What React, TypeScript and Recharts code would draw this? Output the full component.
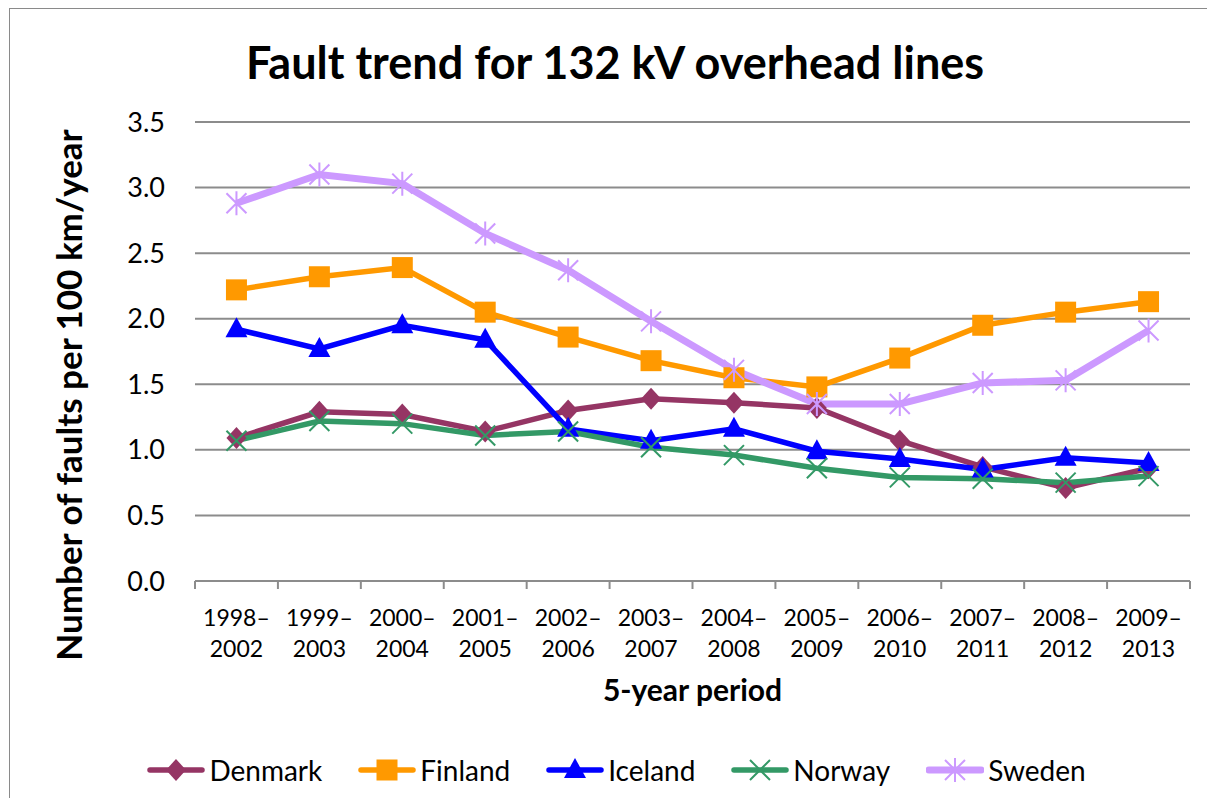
import { LineChart, Line, XAxis, YAxis, CartesianGrid, Legend } from 'recharts'

const periods = [
  '1998–2002', '1999–2003', '2000–2004', '2001–2005', '2002–2006', '2003–2007',
  '2004–2008', '2005–2009', '2006–2010', '2007–2011', '2008–2012', '2009–2013',
]
const denmark = [1.09, 1.29, 1.27, 1.14, 1.30, 1.39, 1.36, 1.32, 1.07, 0.87, 0.71, 0.86]
const finland = [2.22, 2.32, 2.39, 2.05, 1.86, 1.68, 1.55, 1.48, 1.70, 1.95, 2.05, 2.13]
const iceland = [1.92, 1.77, 1.95, 1.84, 1.16, 1.07, 1.16, 0.99, 0.93, 0.85, 0.94, 0.90]
const norway = [1.07, 1.22, 1.20, 1.11, 1.14, 1.02, 0.96, 0.86, 0.79, 0.78, 0.75, 0.80]
const sweden = [2.88, 3.10, 3.03, 2.65, 2.37, 1.98, 1.61, 1.35, 1.35, 1.51, 1.53, 1.91]
const yTicks = [0, 0.5, 1, 1.5, 2, 2.5, 3, 3.5]

const data = periods.map((period, i) => ({
  period,
  Denmark: denmark[i],
  Finland: finland[i],
  Iceland: iceland[i],
  Norway: norway[i],
  Sweden: sweden[i],
}))

type MarkerKind = 'diamond' | 'square' | 'triangle' | 'x' | 'star'

const series: { key: string; color: string; marker: MarkerKind; width: number }[] = [
  { key: 'Denmark', color: '#953564', marker: 'diamond', width: 5.5 },
  { key: 'Finland', color: '#FF9900', marker: 'square', width: 5.5 },
  { key: 'Iceland', color: '#0000FF', marker: 'triangle', width: 5.5 },
  { key: 'Norway', color: '#339966', marker: 'x', width: 5.5 },
  { key: 'Sweden', color: '#CC99FF', marker: 'star', width: 7 },
]

// page is 1215x806 with an 8px body margin; keep inside it so no scrollbars appear
const W = 1199
const H = 790
const FONT = 'Lato, "Open Sans", sans-serif'
const GRID = '#8c8c8c'
// half of one category band (plot is 995px wide, 12 categories)
const HALF_BAND = 995 / 24

function Marker({ kind, cx, cy, color }: { kind: MarkerKind; cx: number; cy: number; color: string }) {
  if (kind === 'diamond') {
    return <polygon points={`${cx},${cy - 11} ${cx + 10},${cy} ${cx},${cy + 11} ${cx - 10},${cy}`} fill={color} />
  }
  if (kind === 'square') {
    return <rect x={cx - 10.5} y={cy - 10.5} width={21} height={21} fill={color} />
  }
  if (kind === 'triangle') {
    return <polygon points={`${cx},${cy - 12} ${cx + 11},${cy + 8} ${cx - 11},${cy + 8}`} fill={color} />
  }
  if (kind === 'x') {
    return (
      <path
        d={`M${cx - 10},${cy - 10}L${cx + 10},${cy + 10}M${cx + 10},${cy - 10}L${cx - 10},${cy + 10}`}
        stroke={color}
        strokeWidth={2}
      />
    )
  }
  return (
    <path
      d={`M${cx - 10},${cy - 10}L${cx + 10},${cy + 10}M${cx + 10},${cy - 10}L${cx - 10},${cy + 10}M${cx},${cy - 12}L${cx},${cy + 12}`}
      stroke={color}
      strokeWidth={2}
    />
  )
}

function PeriodTick(props: any) {
  const { x, y, payload, index } = props
  const [a, b] = String(payload.value).split('–')
  return (
    <g>
      <line x1={x - HALF_BAND} y1={y} x2={x - HALF_BAND} y2={y + 8} stroke={GRID} strokeWidth={2} />
      {index === periods.length - 1 && (
        <line x1={x + HALF_BAND} y1={y} x2={x + HALF_BAND} y2={y + 8} stroke={GRID} strokeWidth={2} />
      )}
      <text x={x} y={y + 36} textAnchor="middle" dominantBaseline="central" fontSize={23} fill="#000">
        {a}–
      </text>
      <text x={x} y={y + 67} textAnchor="middle" dominantBaseline="central" fontSize={23} fill="#000">
        {b}
      </text>
    </g>
  )
}

function LegendContent() {
  return (
    <div
      style={{
        display: 'flex',
        justifyContent: 'center',
        alignItems: 'center',
        gap: 36,
        height: 44,
        paddingLeft: 18,
        boxSizing: 'border-box',
        fontFamily: FONT,
        fontSize: 28,
        color: '#000',
      }}
    >
      {series.map((s) => (
        <div key={s.key} style={{ display: 'flex', alignItems: 'center' }}>
          <svg width={58} height={30} style={{ marginRight: 4 }}>
            <line x1={3} y1={15} x2={55} y2={15} stroke={s.color} strokeWidth={s.width} strokeLinecap="round" />
            <Marker kind={s.marker} cx={29} cy={15} color={s.color} />
          </svg>
          <span>{s.key}</span>
        </div>
      ))}
    </div>
  )
}

export default function App() {
  return (
    <div style={{ position: 'relative', width: W, height: H, fontFamily: FONT, overflow: 'hidden' }}>
      <div
        style={{
          position: 'absolute',
          left: 1,
          top: 0,
          width: 40,
          height: 40,
          borderLeft: '1px solid #8a8a8a',
          borderTop: '1px solid #8a8a8a',
          pointerEvents: 'none',
        }}
      />
      <div style={{ position: 'absolute', left: 1, top: 0, width: W, height: 1, background: '#8a8a8a' }} />
      <div style={{ position: 'absolute', left: 1, top: 0, width: 1, height: H, background: '#8a8a8a' }} />
      <div
        style={{
          position: 'absolute',
          left: 0,
          top: 24,
          width: W,
          paddingLeft: 15,
          boxSizing: 'border-box',
          lineHeight: '60px',
          textAlign: 'center',
          fontSize: 45,
          fontWeight: 700,
          color: '#000',
        }}
      >
        Fault trend for 132 kV overhead lines
      </div>
      <LineChart width={W} height={H} data={data} margin={{ top: 114, right: 17, left: 107, bottom: 48 }}>
        <CartesianGrid stroke={GRID} strokeWidth={2} vertical={false} />
        <XAxis
          dataKey="period"
          height={125}
          padding={{ left: HALF_BAND, right: HALF_BAND }}
          axisLine={{ stroke: GRID, strokeWidth: 2 }}
          tickLine={false}
          tickSize={0}
          tickMargin={0}
          interval={0}
          tick={<PeriodTick />}
          label={{
            value: '5-year period',
            position: 'insideBottom',
            offset: 5,
            style: { fontSize: 30, fontWeight: 700, fill: '#000' },
          }}
        />
        <YAxis
          width={80}
          domain={[0, 3.5]}
          ticks={yTicks}
          axisLine={false}
          tickLine={false}
          tickSize={0}
          tickMargin={30}
          tickFormatter={(v: number) => v.toFixed(1)}
          tick={{ fontSize: 27, fill: '#000' }}
          label={{
            content: () => (
              <text
                x={60}
                y={387}
                transform="rotate(-90 60 387)"
                textAnchor="middle"
                dominantBaseline="central"
                fontSize={35}
                fontWeight={700}
                fill="#000"
              >
                Number of faults per 100 km/year
              </text>
            ),
          }}
        />
        <Legend verticalAlign="bottom" height={44} content={<LegendContent />} wrapperStyle={{ top: 740, left: 0, width: W }} />
        {series.map((s) => (
          <Line
            key={s.key}
            type="linear"
            dataKey={s.key}
            stroke={s.color}
            strokeWidth={s.width}
            isAnimationActive={false}
            dot={(p: any) => <Marker key={`${s.key}-${p.index}`} kind={s.marker} cx={p.cx} cy={p.cy} color={s.color} />}
            activeDot={false}
          />
        ))}
      </LineChart>
    </div>
  )
}
